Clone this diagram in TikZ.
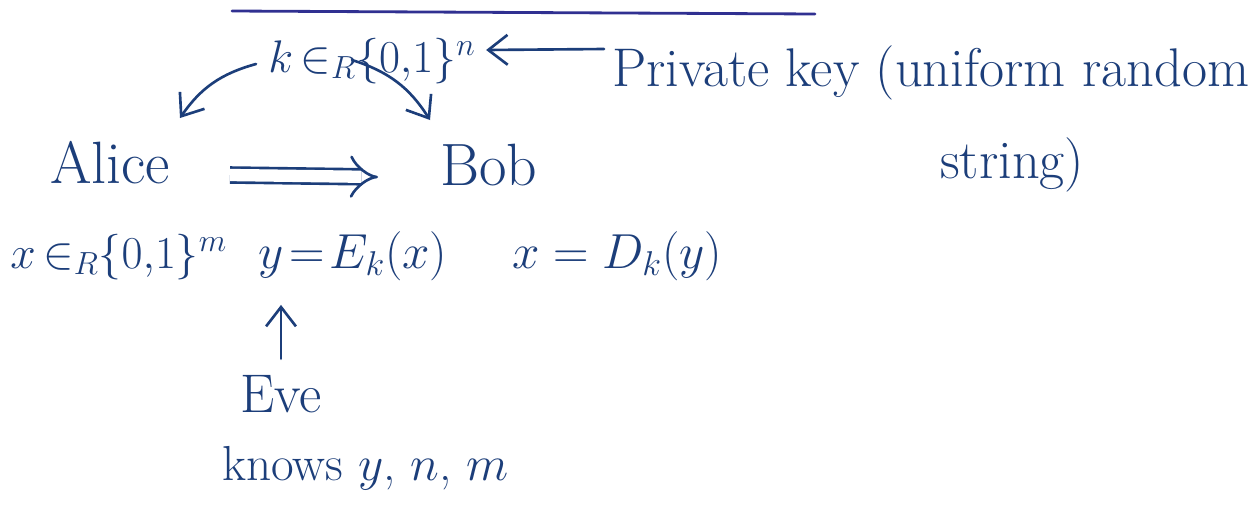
\RequirePackage{fix-cm}
\documentclass[tikz,border=0pt]{standalone}
\usetikzlibrary{arrows.meta}
\definecolor{ink}{RGB}{28,62,122}
\definecolor{topink}{RGB}{48,48,145}
\newcommand{\inR}{\mathord{\in_R}}
\begin{document}
\begin{tikzpicture}[x=0.02cm,y=-0.02cm,
  lbl/.style={anchor=base west, inner sep=0pt, text=ink, font=\fontsize{28}{32}\selectfont},
  small/.style={font=\fontsize{26}{30}\selectfont},
  big/.style={font=\fontsize{34}{38}\selectfont},
  mid/.style={font=\fontsize{31}{36}\selectfont},
  tip/.style={-{Straight Barb[length=11pt,width=17pt,line width=1.5pt]}},
  conn/.style={draw=ink, line width=1.5pt, line cap=round, line join=round, tip},
  implies/.style={draw=ink, line width=1.5pt, double=white, double distance=7pt, -{Implies}}]
\useasboundingbox (0,0) rectangle (1254,511);
\fill[white] (0,0) rectangle (1254,511);
% top underline (cut off)
\draw[topink, line width=1.6pt, line cap=round] (232,11) -- (815,14);
% texts
\node[lbl,small] (key) at (268,72) {$k\,\inR\{0,\!1\}^n$};
\node[lbl,mid] (pk) at (612,86) {Private key (uniform random};
\node[lbl,mid] (str) at (940,178) {string)};
\node[lbl,big] (alice) at (50,183) {Alice};
\node[lbl,big] (bob) at (440,185) {Bob};
\node[lbl,small] (xin) at (10,268) {$x\,\inR\{0,\!1\}^m$};
\node[lbl] (enc) at (258,268) {$y\!=\!E_k(x)$};
\node[lbl] (dec) at (512,268) {$x=D_k(y)$};
\node[lbl,mid] (eve) at (240,412) {Eve};
\node[lbl] (knows) at (222,480) {knows $y$, $n$, $m$};
% connectors
\draw[conn] ([shift={(-8,-37)}]pk.base west) -- ([shift={(10,-22)}]key.base east);
\draw[conn] ([shift={(-12,-8)}]key.base west) to[bend right=20] ([shift={(130,-65)}]alice.base west);
\draw[conn] ([shift={(84,-12)}]key.base west) to[bend left=20] ([shift={(-10,-65)}]bob.base west);
\draw[implies] ([shift={(180,-8)}]alice.base west) -- ([shift={(-62,-8)}]bob.base west);
\draw[conn] ([yshift=9pt]eve.north) -- ([yshift=-21pt]eve.north |- enc.base);
\end{tikzpicture}
\end{document}
